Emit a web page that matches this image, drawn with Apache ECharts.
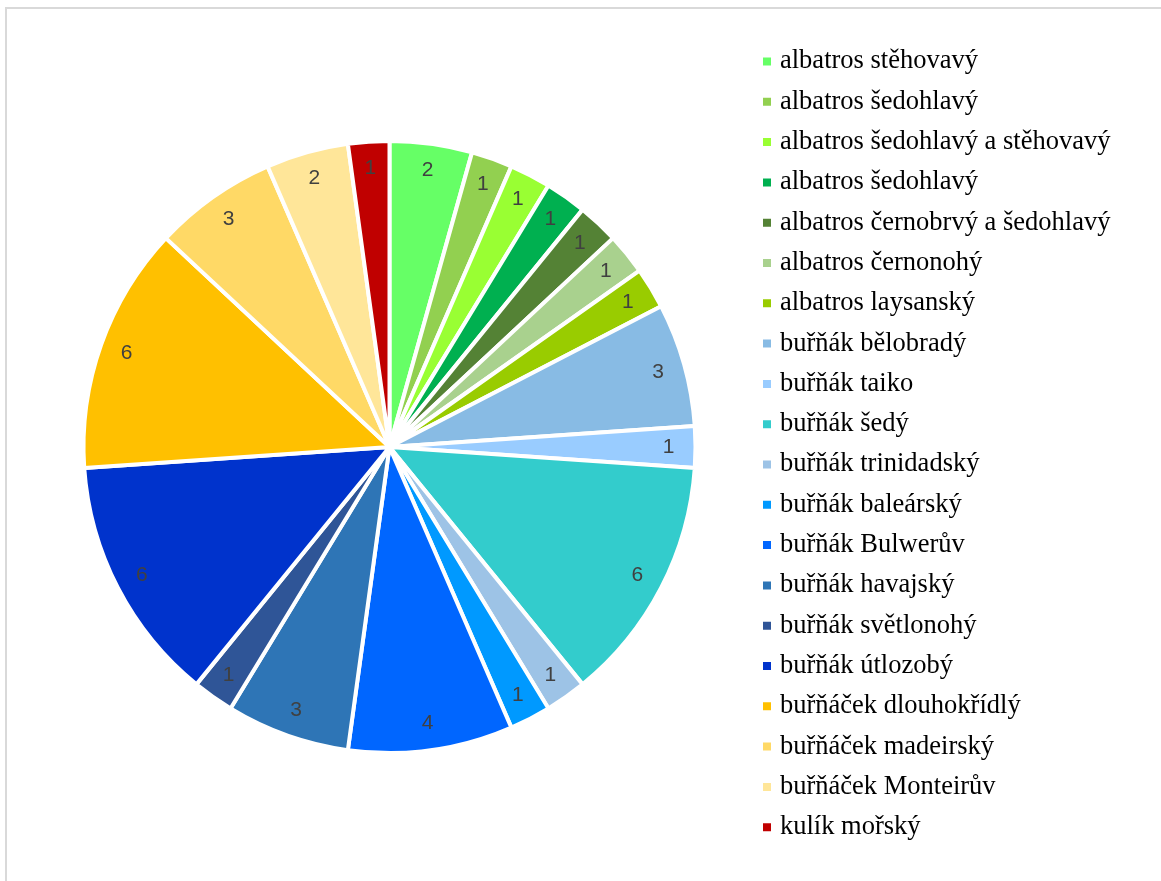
<!DOCTYPE html>
<html>
<head>
<meta charset="utf-8">
<script src="https://cdn.jsdelivr.net/npm/echarts@6/dist/echarts.min.js"></script>
<style>
html,body{margin:0;padding:0;background:#fff;}
#chart{width:1161px;height:881px;}
</style>
</head>
<body>
<div id="chart"></div>
<script>
// Categories (second "albatros šedohlavý" carries a zero-width space to keep it distinct)
var categories = [
  "albatros stěhovavý",
  "albatros šedohlavý",
  "albatros šedohlavý a stěhovavý",
  "albatros šedohlavý\u200b",
  "albatros černobrvý a šedohlavý",
  "albatros černonohý",
  "albatros laysanský",
  "buřňák bělobradý",
  "buřňák taiko",
  "buřňák šedý",
  "buřňák trinidadský",
  "buřňák baleárský",
  "buřňák Bulwerův",
  "buřňák havajský",
  "buřňák světlonohý",
  "buřňák útlozobý",
  "buřňáček dlouhokřídlý",
  "buřňáček madeirský",
  "buřňáček Monteirův",
  "kulík mořský"
];
var counts = [2, 1, 1, 1, 1, 1, 1, 3, 1, 6, 1, 1, 4, 3, 1, 6, 6, 3, 2, 1];
var colors = [
  "#66FF66", "#92D050", "#99FF33", "#00B050", "#548235", "#A9D18E", "#99CC00",
  "#88BBE4", "#99CCFF", "#33CCCC", "#9DC3E6", "#0099FF", "#0066FF", "#2E75B6",
  "#2F5597", "#0033CC", "#FFC000", "#FFD966", "#FFE699", "#C00000"
];

var pieData = categories.map(function (c, i) {
  return { name: c, value: counts[i], itemStyle: { color: colors[i] } };
});

var chart = echarts.init(document.getElementById('chart'), null, { renderer: 'canvas' });
chart.setOption({
  animation: false,
  backgroundColor: '#ffffff',
  graphic: [{
    type: 'rect',
    shape: { x: 6, y: 8, width: 1200, height: 900 },
    style: { fill: 'none', stroke: '#d9d9d9', lineWidth: 2 },
    silent: true
  }],
  legend: {
    orient: 'vertical',
    left: 761,
    top: 48,
    padding: 0,
    itemWidth: 10,
    itemHeight: 10,
    itemGap: 13.3,
    icon: 'rect',
    selectedMode: false,
    data: categories,
    textStyle: {
      fontFamily: '"Liberation Serif", "Times New Roman", serif',
      fontSize: 26.5,
      color: '#000000',
      padding: [0, 0, 0, 3]
    }
  },
  series: [
    {
      type: 'pie',
      center: [389.5, 447],
      radius: [0, 306],
      startAngle: 90,
      clockwise: true,
      avoidLabelOverlap: false,
      data: pieData,
      itemStyle: { borderColor: '#ffffff', borderWidth: 4 },
      label: { show: false },
      labelLine: { show: false },
      emphasis: { disabled: true }
    },
    {
      type: 'pie',
      center: [389.5, 447],
      radius: [251, 301],
      startAngle: 90,
      clockwise: true,
      avoidLabelOverlap: false,
      silent: true,
      data: categories.map(function (c, i) { return { name: c, value: counts[i] }; }),
      itemStyle: { color: 'rgba(0,0,0,0)', borderWidth: 0 },
      label: {
        show: true,
        position: 'inside',
        formatter: '{c}',
        fontFamily: '"Liberation Sans", Arial, sans-serif',
        fontSize: 21,
        color: '#404040'
      },
      labelLine: { show: false },
      emphasis: { disabled: true }
    }
  ]
});
</script>
</body>
</html>
